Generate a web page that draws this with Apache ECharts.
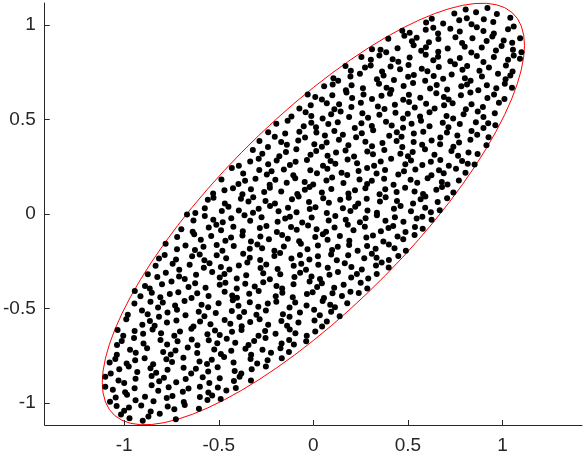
<!DOCTYPE html>
<html>
<head>
<meta charset="utf-8">
<script src="https://cdn.jsdelivr.net/npm/echarts@6/dist/echarts.min.js"></script>
<style>
  html, body { margin: 0; padding: 0; background: #fff; }
  #chart { width: 583px; height: 455px; }
</style>
</head>
<body>
<div id="chart"></div>
<script>
// tick positions on both axes
const tickValues = [-1, -0.5, 0, 0.5, 1];

// boundary ellipse
const ellipse = [
  [1.116, 0.8928], [1.1117, 0.9478], [1.099, 0.9955], [1.078, 1.0357], [1.0487, 1.068], [1.0114, 1.0922],
  [0.9665, 1.108], [0.9142, 1.1154], [0.8549, 1.1143], [0.7891, 1.1048], [0.7174, 1.0868], [0.6401, 1.0606],
  [0.558, 1.0263], [0.4716, 0.9842], [0.3817, 0.9346], [0.2888, 0.8779], [0.1938, 0.8144], [0.0973, 0.7448],
  [0, 0.6696], [-0.0973, 0.5892], [-0.1938, 0.5044], [-0.2888, 0.4157], [-0.3817, 0.3238], [-0.4716, 0.2296],
  [-0.558, 0.1335], [-0.6401, 0.0364], [-0.7174, -0.061], [-0.7891, -0.1578], [-0.8549, -0.2535], [-0.9142, -0.3472],
  [-0.9665, -0.4384], [-1.0114, -0.5262], [-1.0487, -0.61], [-1.078, -0.6891], [-1.099, -0.7629], [-1.1117, -0.831],
  [-1.116, -0.8928], [-1.1117, -0.9478], [-1.099, -0.9955], [-1.078, -1.0357], [-1.0487, -1.068], [-1.0114, -1.0922],
  [-0.9665, -1.108], [-0.9142, -1.1154], [-0.8549, -1.1143], [-0.7891, -1.1048], [-0.7174, -1.0868], [-0.6401, -1.0606],
  [-0.558, -1.0263], [-0.4716, -0.9842], [-0.3817, -0.9346], [-0.2888, -0.8779], [-0.1938, -0.8144], [-0.0973, -0.7448],
  [0, -0.6696], [0.0973, -0.5892], [0.1938, -0.5044], [0.2888, -0.4157], [0.3817, -0.3238], [0.4716, -0.2296],
  [0.558, -0.1335], [0.6401, -0.0364], [0.7174, 0.061], [0.7891, 0.1578], [0.8549, 0.2535], [0.9142, 0.3472],
  [0.9665, 0.4384], [1.0114, 0.5262], [1.0487, 0.61], [1.078, 0.6891], [1.099, 0.7629], [1.1117, 0.831],
  [1.116, 0.8928]
];

// sample points, one row of the cloud per line (x and y kept in matching rows)
const dotX = [
  [-1.017,-0.972,-0.902,-0.872,-0.812,-0.727],
  [-1.04,-1.0,-0.975,-0.91,-0.86,-0.77,-0.735,-0.68,-0.605],
  [-1.075,-1.045,-0.985,-0.94,-0.89,-0.845,-0.775,-0.745,-0.685,-0.6,-0.56,-0.535,-0.49],
  [-1.06,-0.995,-0.945,-0.855,-0.82,-0.765,-0.69,-0.66,-0.6,-0.555,-0.505,-0.46,-0.41,-1.1],
  [-1.1,-1.03,-1.0,-0.94,-0.855,-0.815,-0.79,-0.725,-0.675,-0.585,-0.55,-0.495,-0.42,-0.39,-0.33],
  [-1.071,-1.026,-0.976,-0.931,-0.861,-0.831,-0.771,-0.686,-0.646,-0.621,-0.556,-0.506,-0.416,-0.381,-0.326,-0.251],
  [-1.077,-1.047,-0.987,-0.942,-0.892,-0.847,-0.777,-0.747,-0.687,-0.602,-0.562,-0.537,-0.472,-0.422,-0.332,-0.297,-0.242,-0.167],
  [-1.039,-0.969,-0.939,-0.879,-0.794,-0.754,-0.729,-0.664,-0.614,-0.524,-0.489,-0.434,-0.359,-0.329,-0.269,-0.224,-0.174,-0.129],
  [-1.038,-1.013,-0.948,-0.898,-0.808,-0.773,-0.718,-0.643,-0.613,-0.553,-0.508,-0.458,-0.413,-0.343,-0.313,-0.253,-0.168,-0.128,-0.103,-0.038],
  [-1.035,-1.005,-0.945,-0.9,-0.85,-0.805,-0.735,-0.705,-0.645,-0.56,-0.52,-0.495,-0.43,-0.38,-0.29,-0.255,-0.2,-0.125,-0.095,-0.035,0.01],
  [-0.989,-0.904,-0.864,-0.839,-0.774,-0.724,-0.634,-0.599,-0.544,-0.469,-0.439,-0.379,-0.334,-0.284,-0.239,-0.169,-0.139,-0.079,0.006,0.046,0.071],
  [-0.981,-0.906,-0.876,-0.816,-0.771,-0.721,-0.676,-0.606,-0.576,-0.516,-0.431,-0.391,-0.366,-0.301,-0.251,-0.161,-0.126,-0.071,0.004,0.034,0.094,0.139],
  [-0.946,-0.861,-0.821,-0.796,-0.731,-0.681,-0.591,-0.556,-0.501,-0.426,-0.396,-0.336,-0.291,-0.241,-0.196,-0.126,-0.096,-0.036,0.049,0.089,0.114,0.179],
  [-0.944,-0.914,-0.854,-0.809,-0.759,-0.714,-0.644,-0.614,-0.554,-0.469,-0.429,-0.404,-0.339,-0.289,-0.199,-0.164,-0.109,-0.034,-0.004,0.056,0.101,0.151,0.196,0.24],
  [-0.89,-0.865,-0.8,-0.75,-0.66,-0.625,-0.57,-0.495,-0.465,-0.405,-0.36,-0.31,-0.265,-0.195,-0.165,-0.105,-0.02,0.02,0.045,0.11,0.16,0.25,0.285],
  [-0.875,-0.825,-0.78,-0.71,-0.68,-0.62,-0.535,-0.495,-0.47,-0.405,-0.355,-0.265,-0.23,-0.175,-0.1,-0.07,-0.01,0.035,0.085,0.13,0.2,0.23,0.29,0.335],
  [-0.834,-0.744,-0.709,-0.654,-0.579,-0.549,-0.489,-0.444,-0.394,-0.349,-0.279,-0.249,-0.189,-0.104,-0.064,-0.039,0.026,0.076,0.166,0.201,0.256,0.331,0.361,0.398],
  [-0.816,-0.786,-0.726,-0.641,-0.601,-0.576,-0.511,-0.461,-0.371,-0.336,-0.281,-0.206,-0.176,-0.116,-0.071,-0.021,0.024,0.094,0.124,0.184,0.269,0.309,0.334,0.399,0.449],
  [-0.781,-0.721,-0.676,-0.626,-0.581,-0.511,-0.481,-0.421,-0.336,-0.296,-0.271,-0.206,-0.156,-0.066,-0.031,0.024,0.099,0.129,0.189,0.234,0.284,0.329,0.399,0.429,0.489],
  [-0.72,-0.63,-0.595,-0.54,-0.465,-0.435,-0.375,-0.33,-0.28,-0.235,-0.165,-0.135,-0.075,0.01,0.05,0.075,0.14,0.19,0.28,0.315,0.37,0.445,0.475,0.535],
  [-0.698,-0.638,-0.553,-0.513,-0.488,-0.423,-0.373,-0.283,-0.248,-0.193,-0.118,-0.088,-0.028,0.017,0.067,0.112,0.182,0.212,0.272,0.357,0.397,0.422,0.487,0.537,0.578],
  [-0.634,-0.574,-0.529,-0.479,-0.434,-0.364,-0.334,-0.274,-0.189,-0.149,-0.124,-0.059,-0.009,0.081,0.116,0.171,0.246,0.276,0.336,0.381,0.431,0.476,0.546,0.576,-0.668,0.625],
  [-0.624,-0.574,-0.484,-0.449,-0.394,-0.319,-0.289,-0.229,-0.184,-0.134,-0.089,-0.019,0.011,0.071,0.156,0.196,0.221,0.286,0.336,0.426,0.461,0.516,0.591,0.621,0.668],
  [-0.558,-0.528,-0.468,-0.383,-0.343,-0.318,-0.253,-0.203,-0.113,-0.078,-0.023,0.052,0.082,0.142,0.187,0.237,0.282,0.352,0.382,0.442,0.527,0.567,0.592,0.657,0.707],
  [-0.53,-0.47,-0.425,-0.375,-0.33,-0.26,-0.23,-0.17,-0.085,-0.045,-0.02,0.045,0.095,0.185,0.22,0.275,0.35,0.38,0.44,0.485,0.535,0.58,0.65,0.68,0.74],
  [-0.486,-0.396,-0.361,-0.306,-0.231,-0.201,-0.141,-0.096,-0.046,-0.001,0.069,0.099,0.159,0.244,0.284,0.309,0.374,0.424,0.514,0.549,0.604,0.679,0.709,0.769],
  [-0.431,-0.371,-0.286,-0.246,-0.221,-0.156,-0.106,-0.016,0.019,0.074,0.149,0.179,0.239,0.284,0.334,0.379,0.449,0.479,0.539,0.624,0.664,0.689,0.754,0.804],
  [-0.394,-0.334,-0.289,-0.239,-0.194,-0.124,-0.094,-0.034,0.051,0.091,0.116,0.181,0.231,0.321,0.356,0.411,0.486,0.516,0.576,0.621,0.671,0.716,0.786,0.816,0.852],
  [-0.32,-0.27,-0.18,-0.145,-0.09,-0.015,0.015,0.075,0.12,0.17,0.215,0.285,0.315,0.375,0.46,0.5,0.525,0.59,0.64,0.73,0.765,0.82,0.868],
  [-0.285,-0.24,-0.17,-0.14,-0.08,0.005,0.045,0.07,0.135,0.185,0.275,0.31,0.365,0.44,0.47,0.53,0.575,0.625,0.67,0.74,0.77,0.83,0.915],
  [-0.239,-0.204,-0.149,-0.074,-0.044,0.016,0.061,0.111,0.156,0.226,0.256,0.316,0.401,0.441,0.466,0.531,0.581,0.671,0.706,0.761,0.836,0.866,0.926],
  [-0.196,-0.136,-0.051,-0.011,0.014,0.079,0.129,0.219,0.254,0.309,0.384,0.414,0.474,0.519,0.569,0.614,0.684,0.714,0.774,0.859,0.899,0.924,0.962],
  [-0.116,-0.041,-0.011,0.049,0.094,0.144,0.189,0.259,0.289,0.349,0.434,0.474,0.499,0.564,0.614,0.704,0.739,0.794,0.869,0.899,0.959],
  [-0.074,-0.014,0.071,0.111,0.136,0.201,0.251,0.341,0.376,0.431,0.506,0.536,0.596,0.641,0.691,0.736,0.806,0.836,0.896,0.981],
  [0.01,0.045,0.1,0.175,0.205,0.265,0.31,0.36,0.405,0.475,0.505,0.565,0.65,0.69,0.715,0.78,0.83,0.92,0.955,1.01,-0.03],
  [0.057,0.102,0.172,0.202,0.262,0.347,0.387,0.412,0.477,0.527,0.617,0.652,0.707,0.782,0.812,0.872,0.917,0.967,1.012,1.05],
  [0.106,0.131,0.196,0.246,0.336,0.371,0.426,0.501,0.531,0.591,0.636,0.686,0.731,0.801,0.831,0.891,0.976,1.016,1.041],
  [0.198,0.273,0.303,0.363,0.408,0.458,0.503,0.573,0.603,0.663,0.748,0.788,0.813,0.878,0.928,1.018,1.053,0.17],
  [0.254,0.304,0.349,0.419,0.449,0.509,0.594,0.634,0.659,0.724,0.774,0.864,0.899,0.954,1.029,1.059,1.092],
  [0.355,0.385,0.445,0.53,0.57,0.595,0.66,0.71,0.8,0.835,0.89,0.965,0.995,1.055,1.1,0.31],
  [0.396,0.481,0.521,0.546,0.611,0.661,0.751,0.786,0.841,0.916,0.946,1.006,1.051,1.093],
  [0.509,0.594,0.634,0.659,0.724,0.774,0.864,0.899,0.954,1.029,1.059,0.47],
  [0.596,0.626,0.686,0.771,0.811,0.836,0.901,0.951,1.041],
  [0.745,0.805,0.86,0.92,0.97]
];
const dotY = [
  [-1.061,-1.081,-1.094,-1.072,-1.057,-1.086],
  [-1.017,-1.041,-1.024,-1.014,-1.045,-1.019,-1.034,-1.011,-1.031],
  [-0.994,-0.972,-0.957,-0.986,-0.967,-0.991,-0.974,-0.964,-0.995,-0.969,-0.984,-0.961,-0.979],
  [-0.931,-0.944,-0.922,-0.907,-0.936,-0.917,-0.941,-0.924,-0.914,-0.945,-0.919,-0.934,-0.921,-0.915],
  [-0.861,-0.881,-0.894,-0.872,-0.857,-0.886,-0.867,-0.891,-0.874,-0.864,-0.895,-0.869,-0.884,-0.861,-0.881],
  [-0.844,-0.822,-0.807,-0.836,-0.817,-0.841,-0.824,-0.814,-0.845,-0.819,-0.834,-0.811,-0.831,-0.844,-0.822,-0.807],
  [-0.786,-0.767,-0.791,-0.774,-0.764,-0.795,-0.769,-0.784,-0.761,-0.781,-0.794,-0.772,-0.757,-0.786,-0.767,-0.791,-0.774,-0.764],
  [-0.745,-0.719,-0.734,-0.711,-0.731,-0.744,-0.722,-0.707,-0.736,-0.717,-0.741,-0.724,-0.714,-0.745,-0.719,-0.734,-0.711,-0.731],
  [-0.694,-0.672,-0.657,-0.686,-0.667,-0.691,-0.674,-0.664,-0.695,-0.669,-0.684,-0.661,-0.681,-0.694,-0.672,-0.657,-0.686,-0.667,-0.691,-0.674],
  [-0.614,-0.645,-0.619,-0.634,-0.611,-0.631,-0.644,-0.622,-0.607,-0.636,-0.617,-0.641,-0.624,-0.614,-0.645,-0.619,-0.634,-0.611,-0.631,-0.644,-0.622],
  [-0.557,-0.586,-0.567,-0.591,-0.574,-0.564,-0.595,-0.569,-0.584,-0.561,-0.581,-0.594,-0.572,-0.557,-0.586,-0.567,-0.591,-0.574,-0.564,-0.595,-0.569],
  [-0.534,-0.511,-0.531,-0.544,-0.522,-0.507,-0.536,-0.517,-0.541,-0.524,-0.514,-0.545,-0.519,-0.534,-0.511,-0.531,-0.544,-0.522,-0.507,-0.536,-0.517,-0.541],
  [-0.474,-0.464,-0.495,-0.469,-0.484,-0.461,-0.481,-0.494,-0.472,-0.457,-0.486,-0.467,-0.491,-0.474,-0.464,-0.495,-0.469,-0.484,-0.461,-0.481,-0.494,-0.472],
  [-0.407,-0.436,-0.417,-0.441,-0.424,-0.414,-0.445,-0.419,-0.434,-0.411,-0.431,-0.444,-0.422,-0.407,-0.436,-0.417,-0.441,-0.424,-0.414,-0.445,-0.419,-0.434,-0.411,-0.418],
  [-0.381,-0.394,-0.372,-0.357,-0.386,-0.367,-0.391,-0.374,-0.364,-0.395,-0.369,-0.384,-0.361,-0.381,-0.394,-0.372,-0.357,-0.386,-0.367,-0.391,-0.374,-0.364,-0.395],
  [-0.319,-0.334,-0.311,-0.331,-0.344,-0.322,-0.307,-0.336,-0.317,-0.341,-0.324,-0.314,-0.345,-0.319,-0.334,-0.311,-0.331,-0.344,-0.322,-0.307,-0.336,-0.317,-0.341,-0.318],
  [-0.274,-0.264,-0.295,-0.269,-0.284,-0.261,-0.281,-0.294,-0.272,-0.257,-0.286,-0.267,-0.291,-0.274,-0.264,-0.295,-0.269,-0.284,-0.261,-0.281,-0.294,-0.272,-0.257,-0.283],
  [-0.236,-0.217,-0.241,-0.224,-0.214,-0.245,-0.219,-0.234,-0.211,-0.231,-0.244,-0.222,-0.207,-0.236,-0.217,-0.241,-0.224,-0.214,-0.245,-0.219,-0.234,-0.211,-0.231,-0.244,-0.222],
  [-0.157,-0.186,-0.167,-0.191,-0.174,-0.164,-0.195,-0.169,-0.184,-0.161,-0.181,-0.194,-0.172,-0.157,-0.186,-0.167,-0.191,-0.174,-0.164,-0.195,-0.169,-0.184,-0.161,-0.181,-0.194],
  [-0.122,-0.107,-0.136,-0.117,-0.141,-0.124,-0.114,-0.145,-0.119,-0.134,-0.111,-0.131,-0.144,-0.122,-0.107,-0.136,-0.117,-0.141,-0.124,-0.114,-0.145,-0.119,-0.134,-0.111],
  [-0.081,-0.094,-0.072,-0.057,-0.086,-0.067,-0.091,-0.074,-0.064,-0.095,-0.069,-0.084,-0.061,-0.081,-0.094,-0.072,-0.057,-0.086,-0.067,-0.091,-0.074,-0.064,-0.095,-0.069,-0.078],
  [-0.034,-0.011,-0.031,-0.044,-0.022,-0.007,-0.036,-0.017,-0.041,-0.024,-0.014,-0.045,-0.019,-0.034,-0.011,-0.031,-0.044,-0.022,-0.007,-0.036,-0.017,-0.041,-0.024,-0.014,-0.003,-0.03],
  [0.005,0.031,0.016,0.039,0.019,0.006,0.028,0.043,0.014,0.033,0.009,0.026,0.036,0.005,0.031,0.016,0.039,0.019,0.006,0.028,0.043,0.014,0.033,0.009,0.02],
  [0.076,0.086,0.055,0.081,0.066,0.089,0.069,0.056,0.078,0.093,0.064,0.083,0.059,0.076,0.086,0.055,0.081,0.066,0.089,0.069,0.056,0.078,0.093,0.064,0.083],
  [0.109,0.126,0.136,0.105,0.131,0.116,0.139,0.119,0.106,0.128,0.143,0.114,0.133,0.109,0.126,0.136,0.105,0.131,0.116,0.139,0.119,0.106,0.128,0.143,0.114],
  [0.183,0.159,0.176,0.186,0.155,0.181,0.166,0.189,0.169,0.156,0.178,0.193,0.164,0.183,0.159,0.176,0.186,0.155,0.181,0.166,0.189,0.169,0.156,0.178],
  [0.243,0.214,0.233,0.209,0.226,0.236,0.205,0.231,0.216,0.239,0.219,0.206,0.228,0.243,0.214,0.233,0.209,0.226,0.236,0.205,0.231,0.216,0.239,0.219],
  [0.256,0.278,0.293,0.264,0.283,0.259,0.276,0.286,0.255,0.281,0.266,0.289,0.269,0.256,0.278,0.293,0.264,0.283,0.259,0.276,0.286,0.255,0.281,0.266,0.262],
  [0.339,0.319,0.306,0.328,0.343,0.314,0.333,0.309,0.326,0.336,0.305,0.331,0.316,0.339,0.319,0.306,0.328,0.343,0.314,0.333,0.309,0.326,0.318],
  [0.386,0.355,0.381,0.366,0.389,0.369,0.356,0.378,0.393,0.364,0.383,0.359,0.376,0.386,0.355,0.381,0.366,0.389,0.369,0.356,0.378,0.393,0.364],
  [0.433,0.409,0.426,0.436,0.405,0.431,0.416,0.439,0.419,0.406,0.428,0.443,0.414,0.433,0.409,0.426,0.436,0.405,0.431,0.416,0.439,0.419,0.406],
  [0.478,0.493,0.464,0.483,0.459,0.476,0.486,0.455,0.481,0.466,0.489,0.469,0.456,0.478,0.493,0.464,0.483,0.459,0.476,0.486,0.455,0.481,0.47],
  [0.516,0.539,0.519,0.506,0.528,0.543,0.514,0.533,0.509,0.526,0.536,0.505,0.531,0.516,0.539,0.519,0.506,0.528,0.543,0.514,0.533],
  [0.559,0.576,0.586,0.555,0.581,0.566,0.589,0.569,0.556,0.578,0.593,0.564,0.583,0.559,0.576,0.586,0.555,0.581,0.566,0.589],
  [0.619,0.606,0.628,0.643,0.614,0.633,0.609,0.626,0.636,0.605,0.631,0.616,0.639,0.619,0.606,0.628,0.643,0.614,0.633,0.609,0.632],
  [0.676,0.686,0.655,0.681,0.666,0.689,0.669,0.656,0.678,0.693,0.664,0.683,0.659,0.676,0.686,0.655,0.681,0.666,0.689,0.668],
  [0.719,0.706,0.728,0.743,0.714,0.733,0.709,0.726,0.736,0.705,0.731,0.716,0.739,0.719,0.706,0.728,0.743,0.714,0.733],
  [0.759,0.776,0.786,0.755,0.781,0.766,0.789,0.769,0.756,0.778,0.793,0.764,0.783,0.759,0.776,0.786,0.755,0.784],
  [0.831,0.816,0.839,0.819,0.806,0.828,0.843,0.814,0.833,0.809,0.826,0.836,0.805,0.831,0.816,0.839,0.822],
  [0.869,0.856,0.878,0.893,0.864,0.883,0.859,0.876,0.886,0.855,0.881,0.866,0.889,0.869,0.856,0.872],
  [0.928,0.943,0.914,0.933,0.909,0.926,0.936,0.905,0.931,0.916,0.939,0.919,0.906,0.93],
  [0.959,0.976,0.986,0.955,0.981,0.966,0.989,0.969,0.956,0.978,0.993,0.97],
  [1.014,1.033,1.009,1.026,1.036,1.005,1.031,1.016,1.039],
  [1.061,1.083,1.068,1.09,1.059]
];

const dots = [];
dotX.forEach((row, i) => {
  row.forEach((x, j) => dots.push([x, dotY[i][j]]));
});

const axisColor = '#262626';
const labelStyle = { color: axisColor, fontSize: 19, fontFamily: 'Liberation Sans' };

const chart = echarts.init(document.getElementById('chart'));
chart.setOption({
  animation: false,
  grid: { left: 44, right: 1, top: 3, bottom: 30 },
  xAxis: {
    type: 'value', min: -1.42, max: 1.42,
    splitLine: { show: false },
    axisLine: { onZero: false, lineStyle: { color: axisColor, width: 1 } },
    axisTick: { inside: true, length: 5, customValues: tickValues, lineStyle: { color: axisColor } },
    axisLabel: Object.assign({ customValues: tickValues, margin: 11 }, labelStyle)
  },
  yAxis: {
    type: 'value', min: -1.117, max: 1.117,
    splitLine: { show: false },
    axisLine: { onZero: false, lineStyle: { color: axisColor, width: 1 } },
    axisTick: { inside: true, length: 5, customValues: tickValues, lineStyle: { color: axisColor } },
    axisLabel: Object.assign({ customValues: tickValues, margin: 9 }, labelStyle)
  },
  series: [
    {
      type: 'line',
      data: ellipse,
      showSymbol: false,
      clip: false,
      lineStyle: { color: '#ff0000', width: 1 },
      z: 2
    },
    {
      type: 'scatter',
      data: dots,
      symbol: 'circle',
      symbolSize: 6,
      itemStyle: { color: '#000000', opacity: 1 },
      z: 3
    }
  ]
});
</script>
</body>
</html>
